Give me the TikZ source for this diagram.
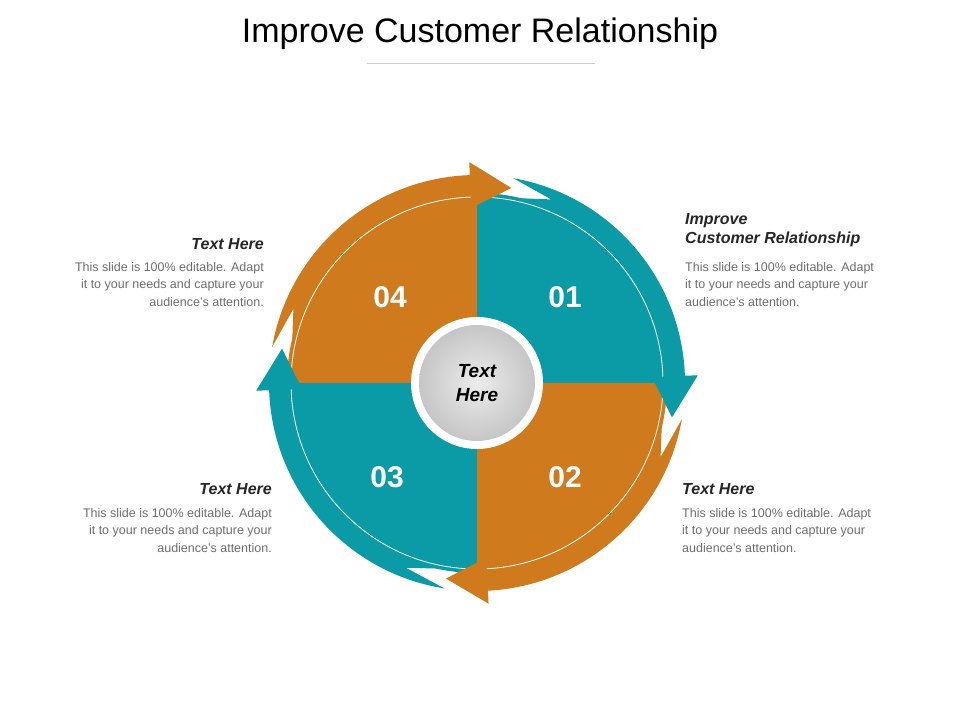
\documentclass[tikz,border=0pt]{standalone}
\usepackage{fontspec}
\setmainfont{Liberation Sans}
\definecolor{tealc}{HTML}{0A9BA7}
\definecolor{orangec}{HTML}{CF7A1C}
\definecolor{bodygray}{HTML}{6E6E6E}
\tikzset{
  num/.style={text=white,font=\bfseries\fontsize{30}{30}\selectfont},
  head/.style={font=\bfseries\itshape\fontsize{16}{19}\selectfont,text=black!85},
  body/.style={font=\fontsize{12.5}{17.5}\selectfont,text=bodygray}
}
% band from angle #2 (tail) clockwise to #3 (head base)
\newcommand{\arrowband}[3]{%
  \fill[#1,shift={(477,337)}] (#2:208) arc[start angle=#2,end angle=#3,radius=208]
    -- (#3:221) -- ({#3-12}:198) -- (#3:175) -- (#3:188)
    arc[start angle=#3,end angle=#2,radius=188] -- ({#2-12}:198) -- cycle;}
\begin{document}
\begin{tikzpicture}[x=1pt,y=1pt]
\useasboundingbox (0,0) rectangle (960,720);
\fill[white] (0,0) rectangle (960,720);
% titel
\node (title) at (480,686) {\fontsize{34}{34}\selectfont Improve Customer Relationship};
\draw[black!20,line width=1pt] (367,656) -- (595,656);
% segmenten
\coordinate (c) at (477,337);
\fill[tealc] (c) -- ++(0:190) arc[start angle=0,end angle=90,radius=190] -- cycle;
\fill[orangec] (c) -- ++(90:190) arc[start angle=90,end angle=180,radius=190] -- cycle;
\fill[tealc] (c) -- ++(180:190) arc[start angle=180,end angle=270,radius=190] -- cycle;
\fill[orangec] (c) -- ++(270:190) arc[start angle=270,end angle=360,radius=190] -- cycle;
\draw[white,line width=0.8pt] (c) circle[radius=186];
% pijlen
\arrowband{tealc}{80}{2}
\arrowband{orangec}{-10}{-87}
\arrowband{tealc}{-99}{-178}
\arrowband{orangec}{170}{92}
% midden
\fill[white] (c) circle[radius=66];
\shade[inner color=gray!15,outer color=gray!45] (c) circle[radius=58];
\node[font=\bfseries\itshape\fontsize{19}{24}\selectfont,align=center] (mid) at (c) {Text\\Here};
% nummers
\node[num] (n1) at (565,423) {01};
\node[num] (n2) at (565,243) {02};
\node[num] (n3) at (387,243) {03};
\node[num] (n4) at (390,423) {04};
% teksten
\node[head,anchor=north west,align=left,inner sep=0] (h1) at (685,507) {Improve\\Customer Relationship};
\node[body,anchor=north west,align=left,inner sep=0] (b1) at (685,458) {This slide is 100\% editable. Adapt\\it to your needs and capture your\\audience's attention.};
\node[head,anchor=north west,inner sep=0] (h2) at (682,237) {Text Here};
\node[body,anchor=north west,align=left,inner sep=0] (b2) at (682,212) {This slide is 100\% editable. Adapt\\it to your needs and capture your\\audience's attention.};
\node[head,anchor=north east,inner sep=0] (h4) at (264,482) {Text Here};
\node[body,anchor=north east,align=right,inner sep=0] (b4) at (264,458) {This slide is 100\% editable. Adapt\\it to your needs and capture your\\audience's attention.};
\node[head,anchor=north east,inner sep=0] (h3) at (272,237) {Text Here};
\node[body,anchor=north east,align=right,inner sep=0] (b3) at (272,212) {This slide is 100\% editable. Adapt\\it to your needs and capture your\\audience's attention.};
\end{tikzpicture}
\end{document}
